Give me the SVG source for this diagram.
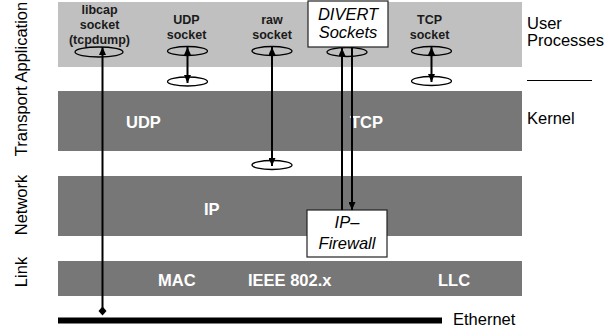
<svg xmlns="http://www.w3.org/2000/svg" width="616" height="332" viewBox="0 0 616 332">
<style>
.band-l{fill:#c0c0c0}
.band-d{fill:#777777}
.lbl{font-family:"Liberation Sans",Arial,sans-serif;font-size:16.5px;fill:#000}
.blbl{font-family:"Liberation Sans",Arial,sans-serif;font-size:16.5px;font-weight:bold;fill:#ffffff}
.slbl{font-family:"Liberation Sans",Arial,sans-serif;font-size:12.5px;font-weight:bold;fill:#1a1a1a;text-anchor:middle}
.ilbl{font-family:"Liberation Sans",Arial,sans-serif;font-size:16.5px;font-style:italic;fill:#000;text-anchor:middle}
.ell{fill:none;stroke:#000;stroke-width:1.3}
.conn{stroke:#000;stroke-width:2;fill:none}
.box{fill:#ffffff;stroke:#222;stroke-width:1.2}
</style>
<defs>
<marker id="ah" markerUnits="userSpaceOnUse" markerWidth="8" markerHeight="7" refX="8" refY="3.5" orient="auto-start-reverse">
<path d="M0,0 L8,3.5 L0,7 z" fill="#000"/>
</marker>
</defs>

<g id="layers">
<rect class="band-l" x="58" y="2" width="464" height="65"/>
<rect class="band-d" x="58" y="91" width="464" height="60"/>
<rect class="band-d" x="58" y="176" width="464" height="60"/>
<rect class="band-d" x="58" y="261" width="464" height="35"/>
<rect x="58" y="317.5" width="384" height="6" fill="#000"/>
<line x1="527" y1="80.5" x2="592" y2="80.5" stroke="#000" stroke-width="1"/>
</g>

<g id="layer-labels">
<text class="lbl" text-anchor="middle" transform="translate(27,79) rotate(-90)">Transport Application</text>
<text class="lbl" text-anchor="middle" transform="translate(27,205) rotate(-90)">Network</text>
<text class="lbl" text-anchor="middle" transform="translate(27,272) rotate(-90)">Link</text>
<text class="lbl" x="527" y="29">User</text>
<text class="lbl" x="527" y="46">Processes</text>
<text class="lbl" x="527" y="124">Kernel</text>
<text class="lbl" x="453" y="325">Ethernet</text>
<text class="blbl" x="126" y="128">UDP</text>
<text class="blbl" x="350" y="128">TCP</text>
<text class="blbl" x="204" y="215">IP</text>
<text class="blbl" x="158" y="286">MAC</text>
<text class="blbl" x="248" y="286">IEEE 802.x</text>
<text class="blbl" x="438" y="286">LLC</text>
</g>

<g id="libcap-socket">
<text class="slbl" x="99.5" y="14">libcap</text>
<text class="slbl" x="99.5" y="29">socket</text>
<text class="slbl" x="99.5" y="43.5">(tcpdump)</text>
<ellipse class="ell" cx="99" cy="52" rx="24" ry="5"/>
</g>

<g id="udp-socket">
<text class="slbl" x="186.5" y="24">UDP</text>
<text class="slbl" x="186.5" y="38.5">socket</text>
<ellipse class="ell" cx="187.5" cy="51" rx="20" ry="4.5"/>
<ellipse class="ell" cx="187.5" cy="81.5" rx="20" ry="4.5"/>
</g>

<g id="raw-socket">
<text class="slbl" x="272" y="24">raw</text>
<text class="slbl" x="272" y="38.5">socket</text>
<ellipse class="ell" cx="272" cy="51" rx="20" ry="4.5"/>
<ellipse class="ell" cx="272" cy="165" rx="20" ry="4.5"/>
</g>

<g id="tcp-socket">
<text class="slbl" x="429.5" y="24">TCP</text>
<text class="slbl" x="429.5" y="38.5">socket</text>
<ellipse class="ell" cx="431.5" cy="51" rx="20" ry="4.5"/>
<ellipse class="ell" cx="431.5" cy="81" rx="20" ry="4.5"/>
</g>

<g id="divert-sockets">
<ellipse class="ell" cx="347" cy="52" rx="20" ry="4.5"/>
<rect class="box" x="308" y="1" width="80" height="46"/>
<text class="ilbl" x="348" y="20">DIVERT</text>
<text class="ilbl" x="348" y="38">Sockets</text>
</g>

<g id="ip-firewall">
<rect class="box" x="307" y="210" width="80" height="47"/>
<text class="ilbl" x="347" y="228">IP–</text>
<text class="ilbl" x="347" y="249">Firewall</text>
</g>

<g id="connectors">
<line class="conn" x1="102.5" y1="311" x2="102.5" y2="47" marker-end="url(#ah)"/>
<path d="M102.5,306.5 L106.5,311 L102.5,315.5 L98.5,311 z" fill="#000"/>
<line class="conn" x1="187.5" y1="47" x2="187.5" y2="83" marker-start="url(#ah)" marker-end="url(#ah)"/>
<line class="conn" x1="272" y1="47" x2="272" y2="166" marker-start="url(#ah)" marker-end="url(#ah)"/>
<line class="conn" x1="431.5" y1="47" x2="431.5" y2="82" marker-start="url(#ah)" marker-end="url(#ah)"/>
<line class="conn" x1="342" y1="210" x2="342" y2="48" marker-end="url(#ah)"/>
<line class="conn" x1="352" y1="47" x2="352" y2="210" marker-end="url(#ah)"/>
</g>
</svg>
